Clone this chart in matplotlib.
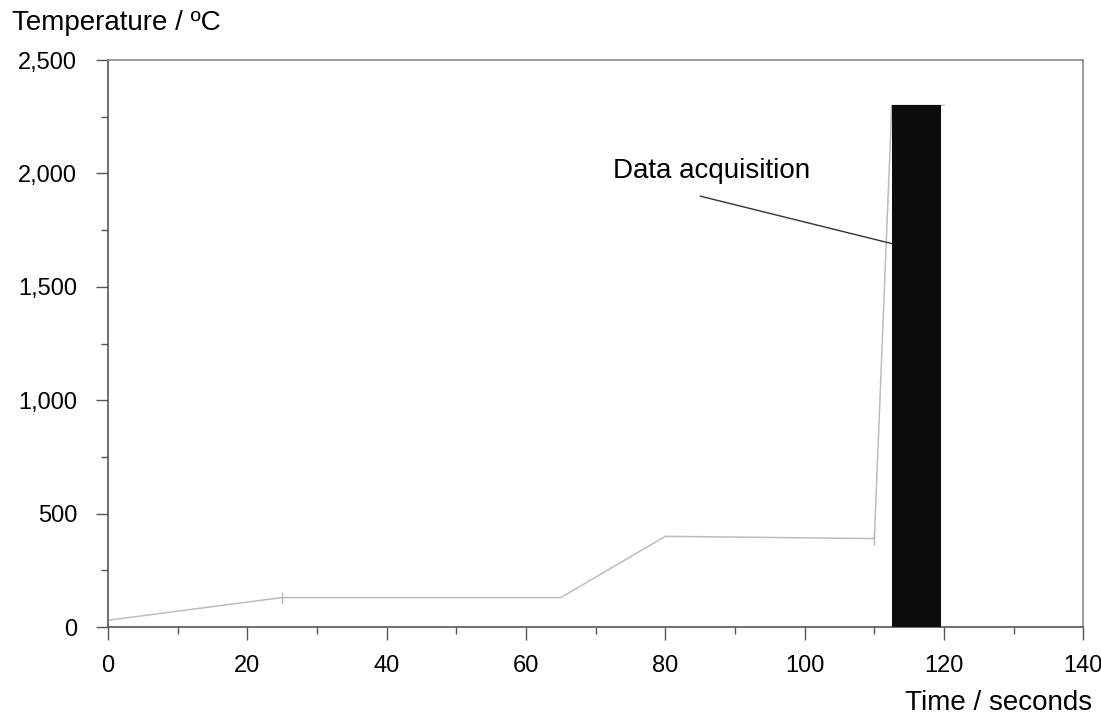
import matplotlib
matplotlib.use("Agg")
import matplotlib.pyplot as plt
from matplotlib.ticker import MultipleLocator, FuncFormatter

plt.rcParams['font.family'] = ['Liberation Sans', 'DejaVu Sans']

# profil de température
time_s = [0, 25, 65, 80, 110, 112.5, 120]
temp_c = [30, 130, 130, 400, 390, 2300, 2300]

# bande d'acquisition
acq_start = 112.5
acq_end = 119.5
acq_top = 2300

# texte et trait de l'annotation
label_pos = (72.5, 2010)
leader_from = (85.0, 1900)
leader_to = (112.6, 1690)

x_ticks = [0, 20, 40, 60, 80, 100, 120, 140]
y_ticks = [0, 500, 1000, 1500, 2000, 2500]

fig = plt.figure(figsize=(11.01, 7.15), dpi=100)
ax = fig.add_axes([0.098, 0.123, 0.886, 0.793])

ax.plot(time_s, temp_c, color="#bcbcbc", lw=1.1, zorder=2)
ax.plot([time_s[1], time_s[4]], [temp_c[1], temp_c[4]], ls="none", marker="|",
        ms=9, color="#bcbcbc", zorder=2)
ax.bar(acq_start, acq_top, width=acq_end - acq_start, align="edge",
       color="#0c0c0c", zorder=3)

ax.text(*label_pos, "Data acquisition", fontsize=20, va="center", ha="left")
ax.annotate("", xy=leader_to, xytext=leader_from,
            arrowprops=dict(arrowstyle="-", color="#333333", lw=1,
                            shrinkA=0, shrinkB=0))

ax.set_xlim(0, 140)
ax.set_ylim(0, 2500)
ax.set_xticks(x_ticks)
ax.set_yticks(y_ticks)
ax.xaxis.set_minor_locator(MultipleLocator(10))
ax.yaxis.set_minor_locator(MultipleLocator(250))
ax.yaxis.set_major_formatter(FuncFormatter(lambda v, p: f"{int(v):,}"))
ax.tick_params(axis="both", which="major", direction="out", length=9,
               width=1, color="#555555", labelsize=17)
ax.tick_params(axis="both", which="minor", direction="out", length=5,
               width=1, color="#555555")
ax.tick_params(axis="x", which="major", pad=11)
ax.tick_params(axis="y", which="major", pad=13)

for s in ["left", "bottom"]:
    ax.spines[s].set_color("#555555")
    ax.spines[s].set_linewidth(1.2)
for s in ["top", "right"]:
    ax.spines[s].set_color("#8a8a8a")
    ax.spines[s].set_linewidth(1.2)

fig.text(0.011, 0.968, "Temperature / ºC", fontsize=20, ha="left", va="center")
fig.text(0.992, 0.017, "Time / seconds", fontsize=20, ha="right", va="center")

fig.savefig("out.png", dpi=100)
